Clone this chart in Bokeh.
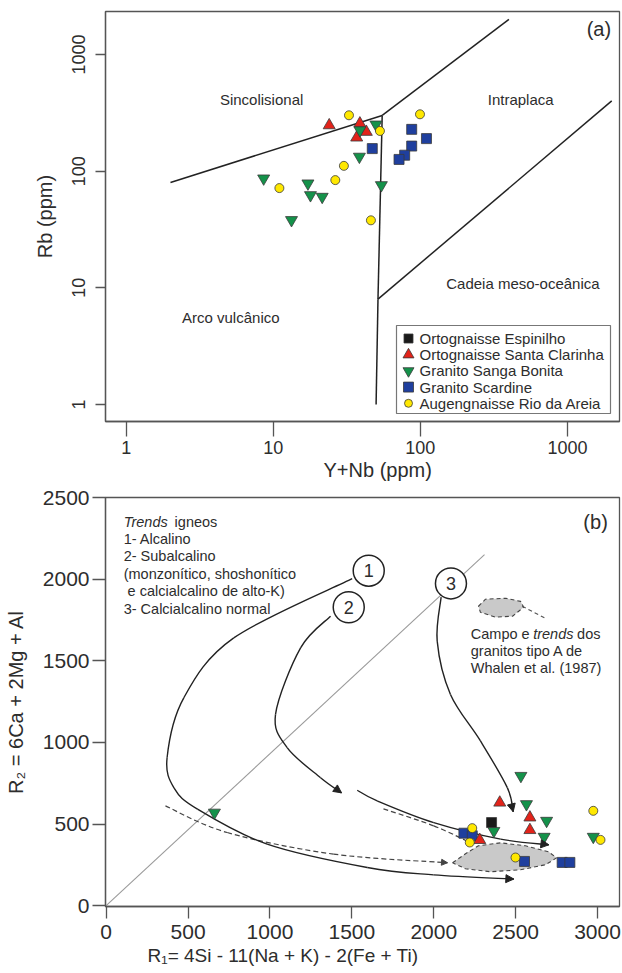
import numpy as np
from bokeh.plotting import figure
from bokeh.layouts import column
from bokeh.models import (FixedTicker, PrintfTickFormatter, Arrow, NormalHead,
                          Title, Range1d)
from bokeh.core.properties import value
from bokeh.embed import file_html
from bokeh.resources import INLINE

FONT = "Liberation Sans"
INK = "#222222"
FRAME = "#555555"
TEXT = "#2d2d2d"

# ---------------- groups ----------------
series_names = ["Ortognaisse Espinilho", "Ortognaisse Santa Clarinha",
                "Granito Sanga Bonita", "Granito Scardine",
                "Augengnaisse Rio da Areia"]
series_markers = ["square", "triangle", "inverted_triangle", "square", "circle"]
series_colors = ["#1a1a1a", "#e2231a", "#14924a", "#1f3f9e", "#ffe800"]
series_sizes = [10, 12, 12, 10, 9]
key_sizes = [9, 11, 11, 10, 8]
draw_order = [3, 1, 2, 0, 4]

# ---------------- panel (a): Rb vs Y+Nb ----------------
a_espinilho_ynb = []
a_espinilho_rb = []
a_clarinha_ynb = [24.0, 38.8, 42.9, 36.9]
a_clarinha_rb = [247, 256, 217, 194]
a_sanga_ynb = [49.9, 38.8, 38.5, 8.6, 17.2, 17.9, 21.5, 54.3, 13.3]
a_sanga_rb = [251, 224, 133, 86.6, 78.5, 62.3, 60.3, 75.9, 38.1]
a_scardine_ynb = [87.3, 110, 87.3, 47.1, 78.2, 71.6]
a_scardine_rb = [228, 190, 164, 156, 137, 126]
a_areia_ynb = [32.7, 53.1, 99.4, 30.2, 26.4, 11.0, 46.1]
a_areia_rb = [301, 221, 307, 111, 83.8, 71.6, 37.9]

a_x = [a_espinilho_ynb, a_clarinha_ynb, a_sanga_ynb, a_scardine_ynb, a_areia_ynb]
a_y = [a_espinilho_rb, a_clarinha_rb, a_sanga_rb, a_scardine_rb, a_areia_rb]

# Pearce et al. (1984) field boundaries
boundary_ynb = [[2, 55], [55, 400], [55, 51.5], [51.5, 50], [51.5, 2000]]
boundary_rb = [[80, 300], [300, 2000], [300, 8], [8, 1], [8, 400]]

field_labels = ["Sincolisional", "Intraplaca", "Cadeia meso-oceânica", "Arco vulcânico"]
field_ynb = [8.33, 481, 498, 5.14]
field_rb = [408, 408, 11.0, 5.54]

# ---------------- panel (b): R1-R2 ----------------
b_espinilho_r1 = [2353]
b_espinilho_r2 = [509]
b_clarinha_r1 = [2403, 2587, 2587, 2281]
b_clarinha_r2 = [631, 540, 463, 402]
b_sanga_r1 = [661, 2532, 2566, 2689, 2674, 2974, 2367]
b_sanga_r2 = [570, 795, 622, 520, 422, 422, 458]
b_scardine_r1 = [2184, 2235, 2554, 2784, 2831]
b_scardine_r2 = [444, 428, 271, 265, 265]
b_areia_r1 = [2235, 2220, 2499, 2974, 3018]
b_areia_r2 = [475, 387, 295, 581, 403]

b_x = [b_espinilho_r1, b_clarinha_r1, b_sanga_r1, b_scardine_r1, b_areia_r1]
b_y = [b_espinilho_r2, b_clarinha_r2, b_sanga_r2, b_scardine_r2, b_areia_r2]

# igneous trends (Batchelor & Bowden, 1985), traced as curve nodes
trend1_r1 = [1502, 779, 474, 372, 415, 560, 983, 1594, 1999, 2489]
trend1_r2 = [2003, 1640, 1273, 906, 720, 590, 377, 234, 189, 163]
trend2a_r1 = [1370, 1187, 1034, 1105, 1309, 1437]
trend2a_r2 = [1773, 1579, 1172, 968, 784, 691]
trend2b_r1 = [1533, 1655, 2000, 2408, 2703]
trend2b_r2 = [707, 642, 509, 408, 373]
trend3_r1 = [2045, 2021, 2102, 2285, 2449, 2485]
trend3_r2 = [1890, 1620, 1294, 1009, 723, 575]

# A-type granite trends and field (Whalen et al., 1987)
atype_low_r1 = [362, 739, 1388, 2084]
atype_low_r2 = [611, 448, 316, 263]
atype_up_r1 = [1693, 2000, 2225]
atype_up_r2 = [593, 489, 385]
atype_field_r1 = [2115, 2194, 2273, 2408, 2560, 2701, 2750, 2683, 2530, 2347, 2194]
atype_field_r2 = [263, 318, 367, 385, 367, 330, 293, 251, 220, 208, 226]
key_field_r1 = [2273, 2316, 2438, 2530, 2549, 2481, 2377, 2285]
key_field_r2 = [1834, 1877, 1883, 1864, 1828, 1773, 1767, 1797]
key_tail_r1 = [2540, 2676]
key_tail_r2 = [1834, 1763]

diag_r1 = [0, 2310]
diag_r2 = [0, 2150]

badge_labels = ["1", "2", "3"]
badge_r1 = [1603, 1481, 2105]
badge_r2 = [2052, 1828, 1974]

# ---------------- frame geometry (screen pixels) ----------------
A_XRANGE = (0.723, 2259)
A_YRANGE = (0.716, 2333)
A_FRAME = dict(left=105, right=619, top=11, bottom=421)


def a_screen_to_data(px, py):
    """Map a canvas position of panel (a) onto its log-log data space."""
    lx0, lx1 = np.log10(A_XRANGE)
    ly0, ly1 = np.log10(A_YRANGE)
    fx = (np.asarray(px, float) - A_FRAME["left"]) / (A_FRAME["right"] - A_FRAME["left"])
    fy = (A_FRAME["bottom"] - np.asarray(py, float)) / (A_FRAME["bottom"] - A_FRAME["top"])
    return 10 ** (lx0 + fx * (lx1 - lx0)), 10 ** (ly0 + fy * (ly1 - ly0))


def style_axes(p, tick_size, label_size, x_out, y_out):
    p.grid.visible = False
    p.outline_line_color = FRAME
    p.outline_line_width = 1.3
    for ax in (p.xaxis[0], p.yaxis[0]):
        ax.axis_line_color = FRAME
        ax.axis_line_width = 1.3
        ax.major_tick_line_color = FRAME
        ax.major_tick_line_width = 1.3
        ax.major_tick_in = 0
        ax.minor_tick_line_color = None
        ax.major_label_text_font = FONT
        ax.major_label_text_font_size = tick_size
        ax.major_label_text_color = TEXT
        ax.axis_label_text_font = FONT
        ax.axis_label_text_font_size = label_size
        ax.axis_label_text_font_style = "normal"
        ax.axis_label_text_color = TEXT
    p.xaxis[0].major_tick_out = x_out
    p.yaxis[0].major_tick_out = y_out


def catmull_bezier(xs, ys):
    P = np.column_stack([xs, ys]).astype(float)
    E = np.vstack([P[0], P, P[-1]])
    seg = {k: [] for k in ("x0", "y0", "x1", "y1", "cx0", "cy0", "cx1", "cy1")}
    for i in range(1, len(E) - 2):
        p0, p1, p2, p3 = E[i - 1], E[i], E[i + 1], E[i + 2]
        c0 = p1 + (p2 - p0) / 6.0
        c1 = p2 - (p3 - p1) / 6.0
        seg["x0"].append(p1[0]); seg["y0"].append(p1[1])
        seg["x1"].append(p2[0]); seg["y1"].append(p2[1])
        seg["cx0"].append(c0[0]); seg["cy0"].append(c0[1])
        seg["cx1"].append(c1[0]); seg["cy1"].append(c1[1])
    return seg


def trend(p, xs, ys, dash="solid", head=8, width=1.4, color=INK):
    p.bezier(line_color=color, line_width=width, line_dash=dash, **catmull_bezier(xs, ys))
    if head:
        dx, dy = xs[-1] - xs[-2], ys[-1] - ys[-2]
        p.add_layout(Arrow(end=NormalHead(size=head, fill_color=color, line_color=color),
                           x_start=xs[-1] - 0.02 * dx, y_start=ys[-1] - 0.02 * dy,
                           x_end=xs[-1], y_end=ys[-1], line_alpha=0))


# ======================= panel (a) =======================
pa = figure(width=622, height=486, x_axis_type="log", y_axis_type="log",
            x_range=Range1d(*A_XRANGE), y_range=Range1d(*A_YRANGE),
            output_backend="svg", toolbar_location=None,
            min_border_left=105, min_border_right=3, min_border_top=11,
            min_border_bottom=65, background_fill_color="white",
            border_fill_color="white")
style_axes(pa, "18px", "20px", 15, 10)
pa.xaxis.ticker = FixedTicker(ticks=[1, 10, 100, 1000], minor_ticks=[])
pa.yaxis.ticker = FixedTicker(ticks=[1, 10, 100, 1000], minor_ticks=[])
pa.xaxis.formatter = PrintfTickFormatter(format="%d")
pa.yaxis.formatter = PrintfTickFormatter(format="%d")
pa.yaxis.major_label_orientation = "vertical"
pa.yaxis.major_label_standoff = 10
pa.xaxis.major_label_standoff = 4
pa.yaxis.axis_label = "Rb (ppm)"
pa.yaxis.axis_label_standoff = 14
pa.add_layout(Title(text="Y+Nb (ppm)", align="left", offset=218, standoff=0,
                    text_font=FONT, text_font_size="20px", text_font_style="normal",
                    text_color=TEXT), "below")

pa.multi_line(boundary_ynb, boundary_rb, line_color=INK, line_width=1.5)
pa.text(field_ynb, field_rb, text=field_labels, text_font=value(FONT),
        text_font_size="15px", text_color=TEXT, text_align="center",
        text_baseline="middle")
pa.text([1637], [1636], text=["(a)"], text_font=value(FONT), text_font_size="20px",
        text_color=TEXT, text_align="center", text_baseline="middle")

for i in draw_order:
    pa.scatter(a_x[i], a_y[i], marker=series_markers[i], size=series_sizes[i],
               fill_color=series_colors[i], line_color="#3a3a3a", line_width=0.8)

# key box in the lower-right corner of panel (a)
box_x, box_y = a_screen_to_data([396, 610], [413, 325])
pa.quad(left=[box_x[0]], right=[box_x[1]], bottom=[box_y[0]], top=[box_y[1]],
        fill_color="white", line_color="#777777", line_width=1.2)
row_py = 338 + 16.2 * np.arange(len(series_names))
mark_x, row_y = a_screen_to_data(np.full(len(series_names), 408.0), row_py)
text_x, _ = a_screen_to_data(np.full(len(series_names), 419.0), row_py)
for i in range(len(series_names)):
    pa.scatter([mark_x[i]], [row_y[i]], marker=series_markers[i], size=key_sizes[i],
               fill_color=series_colors[i], line_color="#3a3a3a", line_width=0.8)
pa.text(text_x, row_y, text=series_names, text_font=value(FONT),
        text_font_size="15px", text_color=TEXT, text_baseline="middle")

# ======================= panel (b) =======================
pb = figure(width=622, height=487, x_range=Range1d(-4, 3134), y_range=Range1d(-5, 2500),
            output_backend="svg", toolbar_location=None,
            min_border_left=105, min_border_right=3, min_border_top=11,
            min_border_bottom=67, background_fill_color="white",
            border_fill_color="white")
style_axes(pb, "21px", "20px", 12, 13)
pb.xaxis.ticker = FixedTicker(ticks=[0, 500, 1000, 1500, 2000, 2500, 3000], minor_ticks=[])
pb.yaxis.ticker = FixedTicker(ticks=[0, 500, 1000, 1500, 2000, 2500], minor_ticks=[])
pb.xaxis.major_label_standoff = 6
pb.yaxis.major_label_standoff = 3
pb.yaxis.axis_label = "R\u2082 = 6Ca + 2Mg + Al"
pb.yaxis.axis_label_standoff = 13
pb.add_layout(Title(text="R\u2081= 4Si - 11(Na + K) - 2(Fe + Ti)", align="left",
                    offset=42, standoff=2, text_font=FONT, text_font_size="19px",
                    text_font_style="normal", text_color=TEXT), "below")

pb.line(diag_r1, diag_r2, line_color="#9a9a9a", line_width=1.1)

# A-type field and its key
pb.patch(atype_field_r1, atype_field_r2, fill_color="#c9c9c9", line_color="#444444",
         line_dash="4 3", line_width=1.1)
pb.patch(key_field_r1, key_field_r2, fill_color="#c9c9c9", line_color="#444444",
         line_dash="4 3", line_width=1.1)
pb.line(key_tail_r1, key_tail_r2, line_color="#555555", line_dash="4 3", line_width=1.1)

trend(pb, atype_low_r1, atype_low_r2, dash="5 3", head=6, width=1.2, color="#444444")
trend(pb, atype_up_r1, atype_up_r2, dash="5 3", head=0, width=1.2, color="#444444")
trend(pb, trend1_r1, trend1_r2)
trend(pb, trend2a_r1, trend2a_r2)
trend(pb, trend2b_r1, trend2b_r2)
trend(pb, trend3_r1, trend3_r2)

pb.scatter(badge_r1, badge_r2, marker="circle", size=31, fill_color="white",
           line_color=INK, line_width=1.5)
pb.text(badge_r1, badge_r2, text=badge_labels, text_font=value(FONT),
        text_font_size="18px", text_color=TEXT, text_align="center",
        text_baseline="middle")

# notes
note_lines = ["1- Alcalino", "2- Subalcalino", "(monzonítico, shoshonítico",
              "e calcialcalino de alto-K)", "3- Calcialcalino normal"]
note_r1 = [107, 107, 107, 131, 107]
note_r2 = [2247, 2139, 2032, 1925, 1818]
pb.text(note_r1, note_r2, text=note_lines, text_font=value(FONT),
        text_font_size="14.5px", text_color=TEXT, text_baseline="middle")
pb.text([107], [2353], text=["Trends"], text_font=value(FONT), text_font_style="italic",
        text_font_size="14.5px", text_color=TEXT, text_baseline="middle")
pb.text([418], [2353], text=["igneos"], text_font=value(FONT),
        text_font_size="14.5px", text_color=TEXT, text_baseline="middle")

pb.text([2226], [1661], text=["Campo e"], text_font=value(FONT),
        text_font_size="14.5px", text_color=TEXT, text_baseline="middle")
pb.text([2607], [1661], text=["trends"], text_font=value(FONT), text_font_style="italic",
        text_font_size="14.5px", text_color=TEXT, text_baseline="middle")
pb.text([2875], [1661], text=["dos"], text_font=value(FONT),
        text_font_size="14.5px", text_color=TEXT, text_baseline="middle")
pb.text([2226, 2226], [1559, 1457], text=["granitos tipo A de", "Whalen et al. (1987)"],
        text_font=value(FONT), text_font_size="14.5px", text_color=TEXT,
        text_baseline="middle")
pb.text([2988], [2350], text=["(b)"], text_font=value(FONT), text_font_size="20px",
        text_color=TEXT, text_align="center", text_baseline="middle")

for i in draw_order:
    pb.scatter(b_x[i], b_y[i], marker=series_markers[i], size=series_sizes[i],
               fill_color=series_colors[i], line_color="#3a3a3a", line_width=0.8)

layout = column(pa, pb, spacing=0)
open("out.html", "w").write(file_html(layout, INLINE))
